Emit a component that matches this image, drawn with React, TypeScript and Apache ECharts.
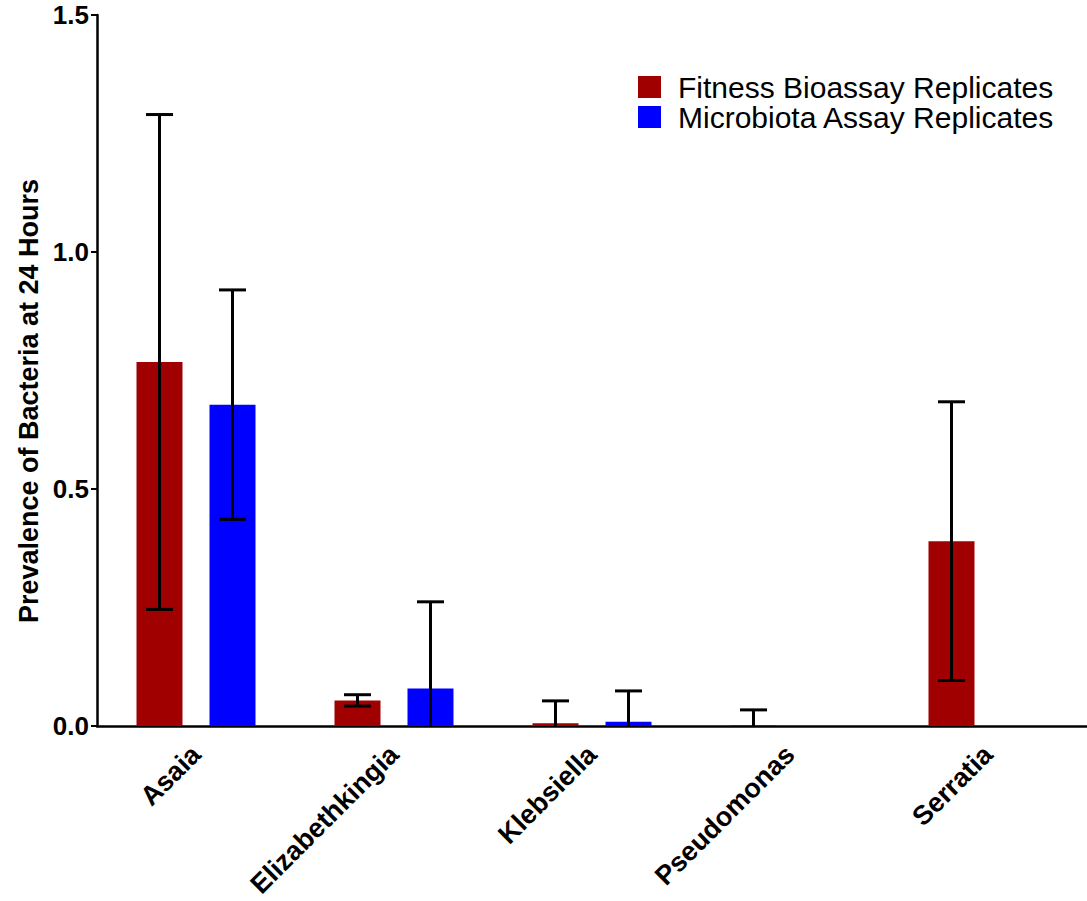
import React, { useEffect, useRef } from "react";
import * as echarts from "echarts";

const categories = ["Asaia", "Elizabethkingia", "Klebsiella", "Pseudomonas", "Serratia"];
const seriesNames = ["Fitness Bioassay Replicates", "Microbiota Assay Replicates"];
const yTitle = "Prevalence of Bacteria at 24 Hours";
const fitnessMean = [0.768, 0.054, 0.006, 0.002, 0.39];
const fitnessErr = [0.522, 0.012, 0.047, 0.032, 0.294];
const microMean = [0.678, 0.079, 0.009, 0, 0];
const microErr = [0.242, 0.183, 0.065, 0, 0];
const yTicks = [0, 0.5, 1.0, 1.5];

const FONT = "'Liberation Sans', Arial, Helvetica, sans-serif";
const BAR_W = 46;
const BAR_GAP = 27;

function errorSeries(means: number[], errs: number[], offset: number) {
  const data = means.map((m, i) => [i, m, errs[i]]);
  return {
    type: "custom",
    z: 10,
    silent: true,
    data,
    renderItem: (params: any, api: any) => {
      const idx = api.value(0);
      const mean = api.value(1);
      const err = api.value(2);
      if (!err) return { type: "group", children: [] };
      const hi = mean + err;
      const lo = Math.max(0, mean - err);
      const pHi = api.coord([idx, hi]);
      const pLo = api.coord([idx, lo]);
      const x = pHi[0] + offset;
      const cap = 13.5;
      const style = { stroke: "#000", lineWidth: 3 };
      const children: any[] = [
        { type: "line", shape: { x1: x, y1: pHi[1], x2: x, y2: pLo[1] }, style },
        { type: "line", shape: { x1: x - cap, y1: pHi[1], x2: x + cap, y2: pHi[1] }, style },
      ];
      if (mean - err > 0) {
        children.push({ type: "line", shape: { x1: x - cap, y1: pLo[1], x2: x + cap, y2: pLo[1] }, style });
      }
      return { type: "group", children };
    },
  };
}

export default function App() {
  const ref = useRef<HTMLDivElement>(null);
  useEffect(() => {
    document.body.style.margin = "0";
    if (!ref.current) return;
    const chart = echarts.init(ref.current, undefined, { renderer: "svg" });
    const off = (BAR_W + BAR_GAP) / 2;
    chart.setOption({
      animation: false,
      backgroundColor: "#fff",
      textStyle: { fontFamily: FONT },
      grid: { left: 97, right: 0, top: 15, bottom: 175, containLabel: false, outerBoundsMode: "none" },
      legend: {
        orient: "vertical",
        left: 633,
        top: 67,
        itemWidth: 23,
        itemHeight: 22,
        itemGap: 0,
        icon: "rect",
        data: seriesNames,
        textStyle: { fontSize: 30, color: "#000", fontFamily: FONT, padding: [0, 0, 0, 12] },
      },
      graphic: [
        {
          type: "text",
          x: 29,
          y: 401,
          rotation: Math.PI / 2,
          style: {
            text: yTitle,
            fill: "#000",
            font: `bold 27px ${FONT}`,
            align: "center",
            verticalAlign: "middle",
          },
        },
      ],
      xAxis: {
        type: "category",
        data: categories,
        axisLine: { lineStyle: { color: "#000", width: 2.5 } },
        axisTick: { alignWithLabel: true, length: 5, lineStyle: { color: "#000", width: 2 } },
        axisLabel: {
          rotate: 45,
          margin: 24,
          color: "#000",
          fontWeight: "bold",
          fontSize: 27,
          fontFamily: FONT,
        },
      },
      yAxis: {
        type: "value",
        min: 0,
        max: 1.5,
        interval: 0.5,
        splitLine: { show: false },
        axisLine: { show: true, lineStyle: { color: "#000", width: 2.5 } },
        axisTick: { show: true, length: 6, lineStyle: { color: "#000", width: 2 } },
        axisLabel: {
          color: "#000",
          fontWeight: "bold",
          fontSize: 26,
          margin: 8,
          fontFamily: FONT,
          formatter: (v: number) => (yTicks.includes(v) ? v.toFixed(1) : ""),
        },
      },
      series: [
        {
          name: seriesNames[0],
          type: "bar",
          data: fitnessMean,
          barWidth: BAR_W,
          barGap: (BAR_GAP / BAR_W) * 100 + "%",
          itemStyle: { color: "#A00000" },
        },
        {
          name: seriesNames[1],
          type: "bar",
          data: microMean,
          barWidth: BAR_W,
          itemStyle: { color: "#0000FF" },
        },
        errorSeries(fitnessMean, fitnessErr, -off),
        errorSeries(microMean, microErr, off),
      ],
    });
    return () => chart.dispose();
  }, []);
  return <div ref={ref} style={{ width: 1087, height: 901 }} />;
}
